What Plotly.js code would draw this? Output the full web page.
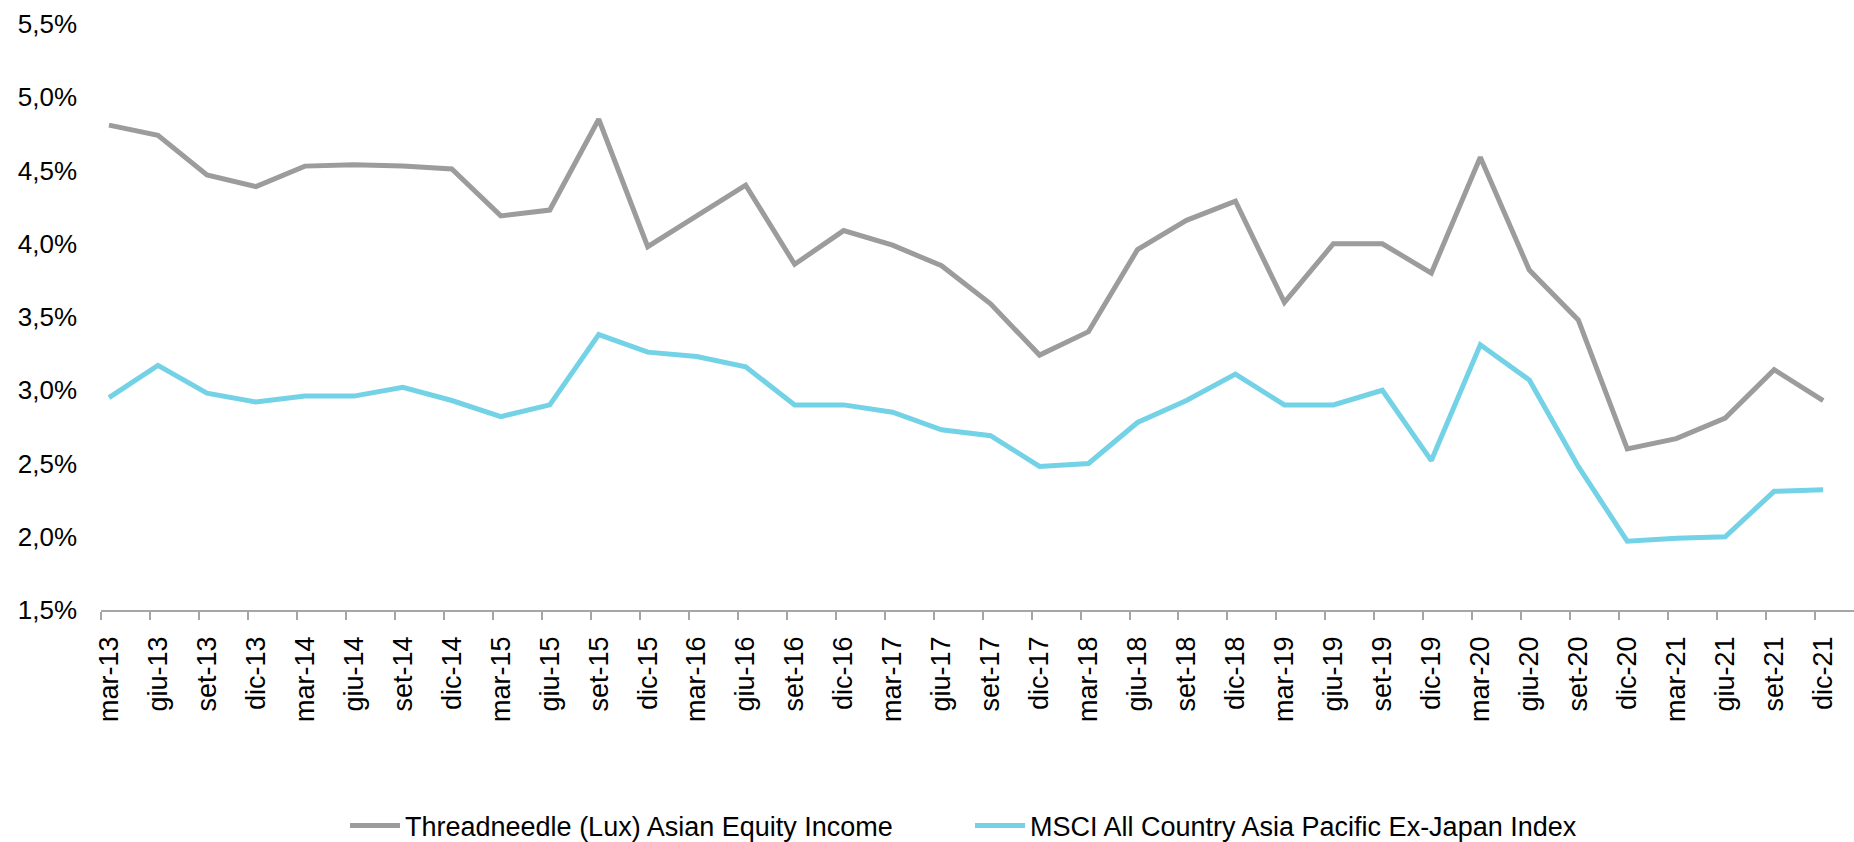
<!DOCTYPE html>
<html>
<head>
<meta charset="utf-8">
<script src="https://cdn.plot.ly/plotly-3.0.1.min.js"></script>
<style>
  html, body { margin: 0; padding: 0; background: #ffffff; }
  #chart { width: 1854px; height: 842px; }
</style>
</head>
<body>
<div id="chart"></div>
<script>
// ---- Data (dividend yield, %) ----
const categories = [
  "mar-13","giu-13","set-13","dic-13",
  "mar-14","giu-14","set-14","dic-14",
  "mar-15","giu-15","set-15","dic-15",
  "mar-16","giu-16","set-16","dic-16",
  "mar-17","giu-17","set-17","dic-17",
  "mar-18","giu-18","set-18","dic-18",
  "mar-19","giu-19","set-19","dic-19",
  "mar-20","giu-20","set-20","dic-20",
  "mar-21","giu-21","set-21","dic-21"
];

const seriesNames = [
  "Threadneedle (Lux) Asian Equity Income",
  "MSCI All Country Asia Pacific Ex-Japan Index"
];

const threadneedle = [
  4.81, 4.74, 4.47, 4.39,
  4.53, 4.54, 4.53, 4.51,
  4.19, 4.23, 4.85, 3.98,
  4.19, 4.40, 3.86, 4.09,
  3.99, 3.85, 3.59, 3.24,
  3.40, 3.96, 4.16, 4.29,
  3.60, 4.00, 4.00, 3.80,
  4.59, 3.82, 3.48, 2.60,
  2.67, 2.81, 3.14, 2.93
];

const msci = [
  2.95, 3.17, 2.98, 2.92,
  2.96, 2.96, 3.02, 2.93,
  2.82, 2.90, 3.38, 3.26,
  3.23, 3.16, 2.90, 2.90,
  2.85, 2.73, 2.69, 2.48,
  2.50, 2.78, 2.93, 3.11,
  2.90, 2.90, 3.00, 2.52,
  3.31, 3.07, 2.48, 1.97,
  1.99, 2.00, 2.31, 2.32
];

const yTickValues = [1.5, 2.0, 2.5, 3.0, 3.5, 4.0, 4.5, 5.0, 5.5];
const yTickLabels = ["1,5%","2,0%","2,5%","3,0%","3,5%","4,0%","4,5%","5,0%","5,5%"];

// ---- Styles ----
const FONT = "'Liberation Sans', Arial, Helvetica, sans-serif";
const GRAY = "#9C9C9C";
const CYAN = "#73D2E6";
const AXIS = "#A6A6A6";
const TICK_OFFSET = 0.163;   // tick marks sit slightly left of data points

const xIndex = categories.map((c, i) => i);

const traces = [
  {
    x: xIndex, y: threadneedle, text: categories,
    name: seriesNames[0], type: "scatter", mode: "lines",
    line: { color: GRAY, width: 5 },
    hovertemplate: "%{text}: %{y:.2f}%<extra></extra>",
    legend: "legend"
  },
  {
    x: xIndex, y: msci, text: categories,
    name: seriesNames[1], type: "scatter", mode: "lines",
    line: { color: CYAN, width: 5 },
    hovertemplate: "%{text}: %{y:.2f}%<extra></extra>",
    legend: "legend2"
  }
];

const legendCommon = {
  orientation: "h",
  xref: "container", yref: "container",
  xanchor: "left", yanchor: "middle",
  y: 16 / 842,
  font: { family: FONT, size: 27, color: "#000000" },
  bgcolor: "rgba(0,0,0,0)",
  itemwidth: 50,
  itemclick: false, itemdoubleclick: false
};

const layout = {
  width: 1854, height: 842,
  margin: { l: 101, r: 0, t: 24, b: 232, pad: 0 },
  paper_bgcolor: "#ffffff",
  plot_bgcolor: "#ffffff",
  font: { family: FONT, size: 26, color: "#000000" },
  showlegend: true,
  legend: Object.assign({}, legendCommon, { x: 345 / 1854 }),
  legend2: Object.assign({}, legendCommon, { x: 970 / 1854 }),
  xaxis: {
    type: "linear",
    range: [-TICK_OFFSET, 35.63],
    tickmode: "array",
    tickvals: xIndex.map(i => i - TICK_OFFSET),
    ticktext: categories,
    tickangle: -90,
    ticks: "outside", ticklen: 8, tickwidth: 1.5, tickcolor: AXIS,
    ticklabelshift: 8,
    ticklabelstandoff: 6,
    showline: true, linecolor: AXIS, linewidth: 1.5,
    showgrid: false, zeroline: false,
    tickfont: { family: FONT, size: 27, color: "#000000" },
    fixedrange: true
  },
  yaxis: {
    range: [1.5, 5.5],
    tickmode: "array",
    tickvals: yTickValues,
    ticktext: yTickLabels,
    ticks: "",
    ticklabelstandoff: 23,
    showline: false, showgrid: false, zeroline: false,
    tickfont: { family: FONT, size: 26, color: "#000000" },
    fixedrange: true
  }
};

Plotly.newPlot("chart", traces, layout, { displayModeBar: false, staticPlot: false });
</script>
</body>
</html>
